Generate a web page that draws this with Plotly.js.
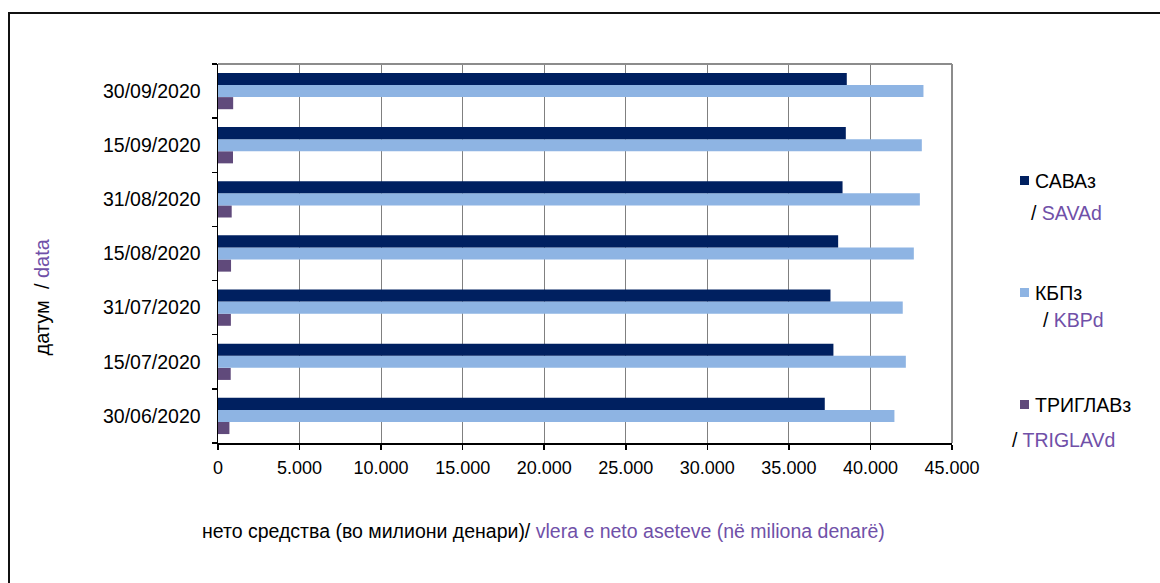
<!DOCTYPE html>
<html><head><meta charset="utf-8">
<script src="https://cdn.plot.ly/plotly-3.0.1.min.js"></script>
<style>
html,body{margin:0;padding:0;background:#fff;overflow:hidden;}
#chart{width:1160px;height:583px;position:absolute;left:0;top:0;}
#frame{position:absolute;left:8px;top:12px;width:1300px;height:800px;border-left:2px solid #111;border-top:2px solid #111;pointer-events:none;}
</style>
</head><body><div id="chart"></div><div id="frame"></div>
<script>
const dates = ['30/06/2020','15/07/2020','31/07/2020','15/08/2020','31/08/2020','15/09/2020','30/09/2020'];
const sava = [37200, 37730, 37550, 38020, 38290, 38490, 38550];
const kbp = [41470, 42170, 41980, 42660, 43030, 43150, 43250];
const triglav = [700, 780, 790, 800, 840, 920, 930];
const xTicks = [0, 5000, 10000, 15000, 20000, 25000, 30000, 35000, 40000, 45000];
const seriesNames = ['САВАз', 'КБПз', 'ТРИГЛАВз'];
const seriesNamesAl = ['SAVAd', 'KBPd', 'TRIGLAVd'];
const colors = {sava:'#002060', kbp:'#8EB4E3', triglav:'#604A7B'};
const purple = '#7050A8';
const FONT = 'Liberation Sans, Arial, sans-serif';

// plot area in pixels
const L = 218, R = 952, T = 64, B = 443;
const W = 1160, H = 583;
const px = v => (v - L) / (R - L);
const py = v => (B - v) / (B - T);

const traces = [
  {type:'bar', orientation:'h', y:dates, x:triglav, name:seriesNames[2], marker:{color:colors.triglav, line:{width:0}}},
  {type:'bar', orientation:'h', y:dates, x:kbp, name:seriesNames[1], marker:{color:colors.kbp, line:{width:0}}},
  {type:'bar', orientation:'h', y:dates, x:sava, name:seriesNames[0], marker:{color:colors.sava, line:{width:0}}}
];

const legendRows = [
  {c:colors.sava, y1:180.5, t1:seriesNames[0], x2:1029, y2:212.5, t2:seriesNamesAl[0]},
  {c:colors.kbp, y1:292.5, t1:seriesNames[1], x2:1041, y2:320, t2:seriesNamesAl[1]},
  {c:colors.triglav, y1:404.5, t1:seriesNames[2], x2:1010, y2:440, t2:seriesNamesAl[2]}
];

const annotations = [];
const shapes = [
  {type:'line', xref:'paper', yref:'paper', x0:0, x1:1, y0:1, y1:1, line:{color:'#8c8c8c', width:2}},
  {type:'line', xref:'paper', yref:'paper', x0:1, x1:1, y0:0, y1:1, line:{color:'#8c8c8c', width:2}}
];
legendRows.forEach(r => {
  shapes.push({type:'rect', xref:'paper', yref:'paper', x0:px(1020), x1:px(1029), y0:py(r.y1+4.5), y1:py(r.y1-4.5), fillcolor:r.c, line:{width:0}});
  annotations.push({xref:'paper', yref:'paper', x:px(1033), y:py(r.y1), xanchor:'left', yanchor:'middle', showarrow:false, text:r.t1, font:{family:FONT, size:19.5, color:'#000'}});
  annotations.push({xref:'paper', yref:'paper', x:px(r.x2), y:py(r.y2), xanchor:'left', yanchor:'middle', showarrow:false, text:'/ <span style="color:'+purple+'">'+r.t2+'</span>', font:{family:FONT, size:19.5, color:'#000'}});
});
annotations.push({xref:'paper', yref:'paper', x:px(200), y:py(531), xanchor:'left', yanchor:'middle', showarrow:false,
  text:'нето средства (во милиони денари)/ <span style="color:'+purple+'">vlera e neto aseteve (në miliona denarë)</span>',
  font:{family:FONT, size:19.5, color:'#000'}});
annotations.push({xref:'paper', yref:'paper', x:px(41.5), y:py(297), xanchor:'center', yanchor:'middle', showarrow:false, textangle:-90,
  text:'датум  / <span style="color:'+purple+'">data</span>', font:{family:FONT, size:20, color:'#000'}});

const layout = {
  width:W, height:H,
  margin:{l:L, r:W-R, t:T, b:H-B, pad:0},
  paper_bgcolor:'rgba(0,0,0,0)', plot_bgcolor:'#fff',
  separators:',.',
  barmode:'group', bargap:0.33, bargroupgap:0,
  showlegend:false,
  font:{family:FONT, size:19, color:'#000'},
  xaxis:{range:[0,45000], tickvals:xTicks, tickformat:',d', showgrid:true, gridcolor:'#808080', gridwidth:1,
    showline:true, linecolor:'#000', linewidth:1.5, ticks:'outside', ticklen:5, tickcolor:'#000', tickwidth:1.5,
    tickfont:{family:FONT, size:18, color:'#000'}, zeroline:false, ticklabelstandoff:3},
  yaxis:{type:'category', categoryarray:dates, showgrid:false, showline:true, linecolor:'#000', linewidth:1.5,
    ticks:'outside', ticklen:5, tickcolor:'#000', tickwidth:1.5, tickson:'boundaries',
    tickfont:{family:FONT, size:19.5, color:'#000'}, ticklabelstandoff:12},
  shapes:shapes, annotations:annotations
};
Plotly.newPlot('chart', traces, layout, {staticPlot:true, displayModeBar:false});
</script>
</body></html>
